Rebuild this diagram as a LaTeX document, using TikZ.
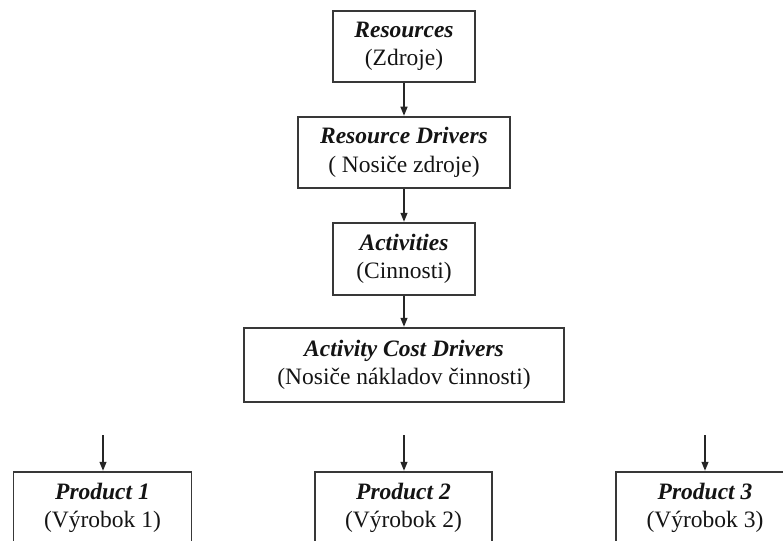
\documentclass[tikz,border=0pt]{standalone}
\usepackage{fontspec}
\setmainfont{Liberation Serif}
\usetikzlibrary{arrows.meta}

\tikzset{
  stagebox/.style={draw=black!78, line width=1.5pt, fill=white, align=center,
    inner sep=0pt, minimum height=71pt, text=black!92,
    font=\fontsize{23.5}{28.5}\selectfont},
  flow/.style={draw=black!85, line width=1.3pt,
    -{Triangle[length=9pt,width=7pt]}, shorten >=0.5pt},
}

\newcommand{\headword}[1]{\textbf{\textit{#1}}}

\begin{document}
\begin{tikzpicture}[x=1pt,y=-1pt]
  \useasboundingbox (0,0) rectangle (783,540);
  \clip (0,0) rectangle (783,540);

  % main chain
  \node[stagebox, minimum width=142pt] (res)  at (404,46.5)
    {\headword{Resources}\\(Zdroje)};
  \node[stagebox, minimum width=212pt] (rdrv) at (404,152.5)
    {\headword{Resource Drivers}\\( Nosiče zdroje)};
  \node[stagebox, minimum width=142pt, minimum height=72pt] (act) at (404,259)
    {\headword{Activities}\\(Cinnosti)};
  \node[stagebox, minimum width=320pt, minimum height=74pt] (acd) at (404,365)
    {\headword{Activity Cost Drivers}\\(Nosiče nákladov činnosti)};

  % products (run past the lower edge)
  \node[stagebox, minimum width=178pt, minimum height=72pt] (p1) at (102.5,508)
    {\headword{Product 1}\\(Výrobok 1)};
  \node[stagebox, minimum width=177pt, minimum height=72pt] (p2) at (403.5,508)
    {\headword{Product 2}\\(Výrobok 2)};
  \node[stagebox, minimum width=178pt, minimum height=72pt] (p3) at (705,508)
    {\headword{Product 3}\\(Výrobok 3)};

  \draw[flow] (res)  -- (rdrv);
  \draw[flow] (rdrv) -- (act);
  \draw[flow] (act)  -- (acd);

  \coordinate (in1) at (103,435);
  \coordinate (in2) at (404,435);
  \coordinate (in3) at (705,435);
  \draw[flow] (in1) -- (in1 |- p1.north);
  \draw[flow] (in2) -- (in2 |- p2.north);
  \draw[flow] (in3) -- (in3 |- p3.north);
\end{tikzpicture}
\end{document}
